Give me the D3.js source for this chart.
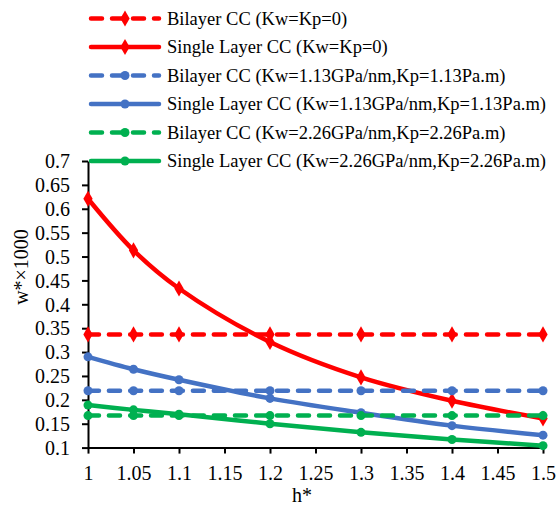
<!DOCTYPE html>
<html>
<head>
<meta charset="utf-8">
<script src="https://cdn.jsdelivr.net/npm/d3@7"></script>
<style>
  body { margin: 0; background: #fff; }
</style>
</head>
<body>
<div id='chart'></div>

<script>
  // values
  var hValues = [1, 1.05, 1.1, 1.2, 1.3, 1.4, 1.5]
  var bilayer0 = [0.337, 0.337, 0.337, 0.337, 0.337, 0.337, 0.337]
  var single0 = [0.621, 0.513, 0.433, 0.321, 0.247, 0.198, 0.161]
  var bilayer113 = [0.219, 0.219, 0.219, 0.219, 0.219, 0.219, 0.219]
  var single113 = [0.290, 0.264, 0.242, 0.203, 0.173, 0.146, 0.126]
  var bilayer226 = [0.167, 0.167, 0.167, 0.167, 0.167, 0.167, 0.167]
  var single226 = [0.189, 0.179, 0.170, 0.150, 0.132, 0.117, 0.104]

  var xTicks = [1, 1.05, 1.1, 1.15, 1.2, 1.25, 1.3, 1.35, 1.4, 1.45, 1.5]
  var yTicks = [0.1, 0.15, 0.2, 0.25, 0.3, 0.35, 0.4, 0.45, 0.5, 0.55, 0.6, 0.65, 0.7]

  var seriesNames = [
    'Bilayer CC (Kw=Kp=0)',
    'Single Layer CC (Kw=Kp=0)',
    'Bilayer CC (Kw=1.13GPa/nm,Kp=1.13Pa.m)',
    'Single Layer CC (Kw=1.13GPa/nm,Kp=1.13Pa.m)',
    'Bilayer CC (Kw=2.26GPa/nm,Kp=2.26Pa.m)',
    'Single Layer CC (Kw=2.26GPa/nm,Kp=2.26Pa.m)'
  ]
  var seriesValues = [bilayer0, single0, bilayer113, single113, bilayer226, single226]
  var seriesColors = ['#ff0000', '#ff0000', '#4472c4', '#4472c4', '#00b050', '#00b050']
  var seriesDashed = [true, false, true, false, true, false]
  var seriesMarker = ['diamond', 'diamond', 'circle', 'circle', 'circle', 'circle']

  var serif = 'Liberation Serif'
  var width = 558, height = 511
  var plotLeft = 88, plotRight = 543, plotTop = 161, plotBottom = 447.6

  var svg = d3.select('#chart')
              .append('svg')
              .attr('width', width)
              .attr('height', height)
              .style('font-family', serif)

  var x = d3.scaleLinear().domain([1, 1.5]).range([plotLeft, plotRight])
  var y = d3.scaleLinear().domain([0.1, 0.7]).range([plotBottom, plotTop])

  function fmt(d) {
    return String(+d.toFixed(2))
  }

  var xAxis = svg.append('g')
                 .attr('transform', 'translate(0,' + plotBottom + ')')
                 .call(d3.axisBottom(x).tickValues(xTicks).tickFormat(fmt).tickSize(6).tickSizeOuter(0).tickPadding(8))
  var yAxis = svg.append('g')
                 .attr('transform', 'translate(' + plotLeft + ',0)')
                 .call(d3.axisLeft(y).tickValues(yTicks).tickFormat(fmt).tickSize(6).tickSizeOuter(0).tickPadding(12))

  ;[xAxis, yAxis].forEach(function(g) {
    g.attr('font-family', null).attr('font-size', null)
    g.select('.domain').attr('stroke', '#000').attr('stroke-width', 2)
    g.selectAll('.tick line').attr('stroke', '#000').attr('stroke-width', 2)
    g.selectAll('.tick text')
     .style('font-family', serif)
     .style('font-size', '20px')
     .attr('fill', '#000')
  })
  xAxis.selectAll('.tick text').attr('dy', '0.9em')
  yAxis.selectAll('.tick text').attr('dy', '0.34em')

  svg.append('text')
     .attr('x', 302)
     .attr('y', 502)
     .attr('text-anchor', 'middle')
     .style('font-family', serif)
     .style('font-size', '20px')
     .text('h*')

  svg.append('text')
     .attr('transform', 'translate(28,267) rotate(-90)')
     .attr('text-anchor', 'middle')
     .style('font-family', serif)
     .style('font-size', '20px')
     .text('w*×1000')

  var line = d3.line()
               .x(function(d) { return x(d[0]) })
               .y(function(d) { return y(d[1]) })
               .curve(d3.curveCatmullRom)

  var diamond = d3.symbol().type(d3.symbolDiamond).size(75)

  function drawMarker(g, type, cx, cy, color) {
    if (type === 'circle') {
      g.append('circle')
       .attr('cx', cx).attr('cy', cy).attr('r', 4.5)
       .attr('fill', color)
    } else {
      g.append('path')
       .attr('d', diamond())
       .attr('transform', 'translate(' + cx + ',' + cy + ')')
       .attr('fill', color)
    }
  }

  var plot = svg.append('g')

  seriesValues.forEach(function(vals, i) {
    var pts = hValues.map(function(h, j) { return [h, vals[j]] })
    var g = plot.append('g')
    g.append('path')
     .attr('d', line(pts))
     .attr('fill', 'none')
     .attr('stroke', seriesColors[i])
     .attr('stroke-width', 4.5)
     .attr('stroke-linecap', 'round')
     .attr('stroke-dasharray', seriesDashed[i] ? '11,10' : null)
    pts.forEach(function(p) {
      drawMarker(g, seriesMarker[i], x(p[0]), y(p[1]), seriesColors[i])
    })
  })

  // legend
  var legend = svg.append('g')
  seriesNames.forEach(function(name, i) {
    var ly = 18.5 + i * 28.5
    legend.append('line')
          .attr('x1', 91).attr('x2', 159)
          .attr('y1', ly).attr('y2', ly)
          .attr('stroke', seriesColors[i])
          .attr('stroke-width', 4.5)
          .attr('stroke-linecap', 'round')
          .attr('stroke-dasharray', seriesDashed[i] ? '11,10' : null)
    drawMarker(legend, seriesMarker[i], 125, ly, seriesColors[i])
    legend.append('text')
          .attr('x', 167)
          .attr('y', ly)
          .attr('dy', '0.33em')
          .style('font-family', serif)
          .style('font-size', '18.5px')
          .attr('fill', '#000')
          .text(name)
  })
</script>
</body>
</html>
